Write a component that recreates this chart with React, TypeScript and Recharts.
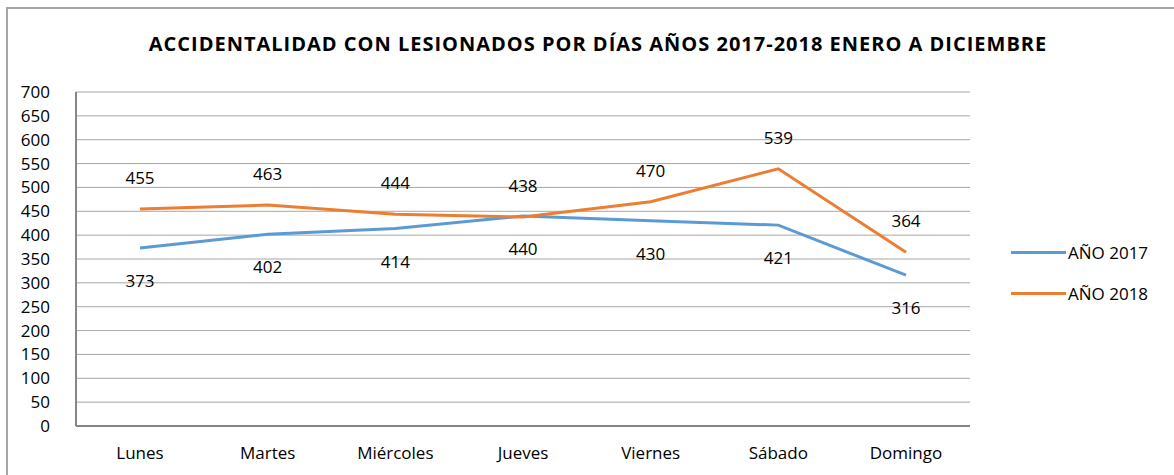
import { LineChart, Line, XAxis, YAxis, CartesianGrid, LabelList } from 'recharts';

const days = ['Lunes', 'Martes', 'Miércoles', 'Jueves', 'Viernes', 'Sábado', 'Domingo'];
const year2017 = [373, 402, 414, 440, 430, 421, 316];
const year2018 = [455, 463, 444, 438, 470, 539, 364];
const yTicks = [0, 50, 100, 150, 200, 250, 300, 350, 400, 450, 500, 550, 600, 650, 700];

const data = days.map((day, i) => ({ day, a2017: year2017[i], a2018: year2018[i] }));

const font = "'Open Sans', sans-serif";
const BLUE = '#5b9bd5';
const ORANGE = '#ed7d31';

const legendItems = [
  { label: 'AÑO 2017', color: BLUE },
  { label: 'AÑO 2018', color: ORANGE },
];

export default function App() {
  return (
    <div style={{ position: 'absolute', left: 0, top: 0, width: 1174, height: 475, background: '#fff', overflow: 'hidden' }}>
      <div style={{ position: 'absolute', left: 6, top: 7, width: 1200, height: 500, borderTop: '2px solid #a6a6a6', borderLeft: '2px solid #a6a6a6' }} />
      <div style={{ position: 'absolute', left: 0, top: 30, width: 1196, textAlign: 'center', fontFamily: font, fontWeight: 700, fontSize: 20, letterSpacing: 1, color: '#000' }}>
        ACCIDENTALIDAD CON LESIONADOS POR DÍAS AÑOS 2017-2018 ENERO A DICIEMBRE
      </div>
      <LineChart width={1174} height={475} data={data} margin={{ top: 92, right: 204, bottom: 0, left: 0 }} style={{ position: 'absolute', left: 0, top: 0 }}>
        <CartesianGrid vertical={false} stroke="#a6a6a6" strokeWidth={1} />
        <XAxis dataKey="day" height={49} padding={{ left: 64, right: 64 }} stroke="#868686" strokeWidth={2} tickLine={false} tickMargin={15}
          tick={{ fill: '#000', fontSize: 17, fontFamily: font }} />
        <YAxis width={76} domain={[0, 700]} ticks={yTicks} interval={0} stroke="#868686" strokeWidth={2} tickLine={false} tickMargin={20}
          tick={{ fill: '#000', fontSize: 17, fontFamily: font }} />
        <Line type="linear" dataKey="a2017" name="AÑO 2017" stroke={BLUE} strokeWidth={3} dot={false} isAnimationActive={false}>
          <LabelList dataKey="a2017" position="bottom" offset={27} fill="#000" fontSize={17} fontFamily={font} />
        </Line>
        <Line type="linear" dataKey="a2018" name="AÑO 2018" stroke={ORANGE} strokeWidth={3} dot={false} isAnimationActive={false}>
          <LabelList dataKey="a2018" position="top" offset={25} fill="#000" fontSize={17} fontFamily={font} />
        </Line>
      </LineChart>
      <div style={{ position: 'absolute', left: 1011, top: 232, fontFamily: font, fontSize: 17, color: '#000' }}>
        {legendItems.map((it) => (
          <div key={it.label} style={{ display: 'flex', alignItems: 'center', height: 41 }}>
            <div style={{ width: 55, height: 3, background: it.color, marginRight: 2 }} />
            <span>{it.label}</span>
          </div>
        ))}
      </div>
    </div>
  );
}
